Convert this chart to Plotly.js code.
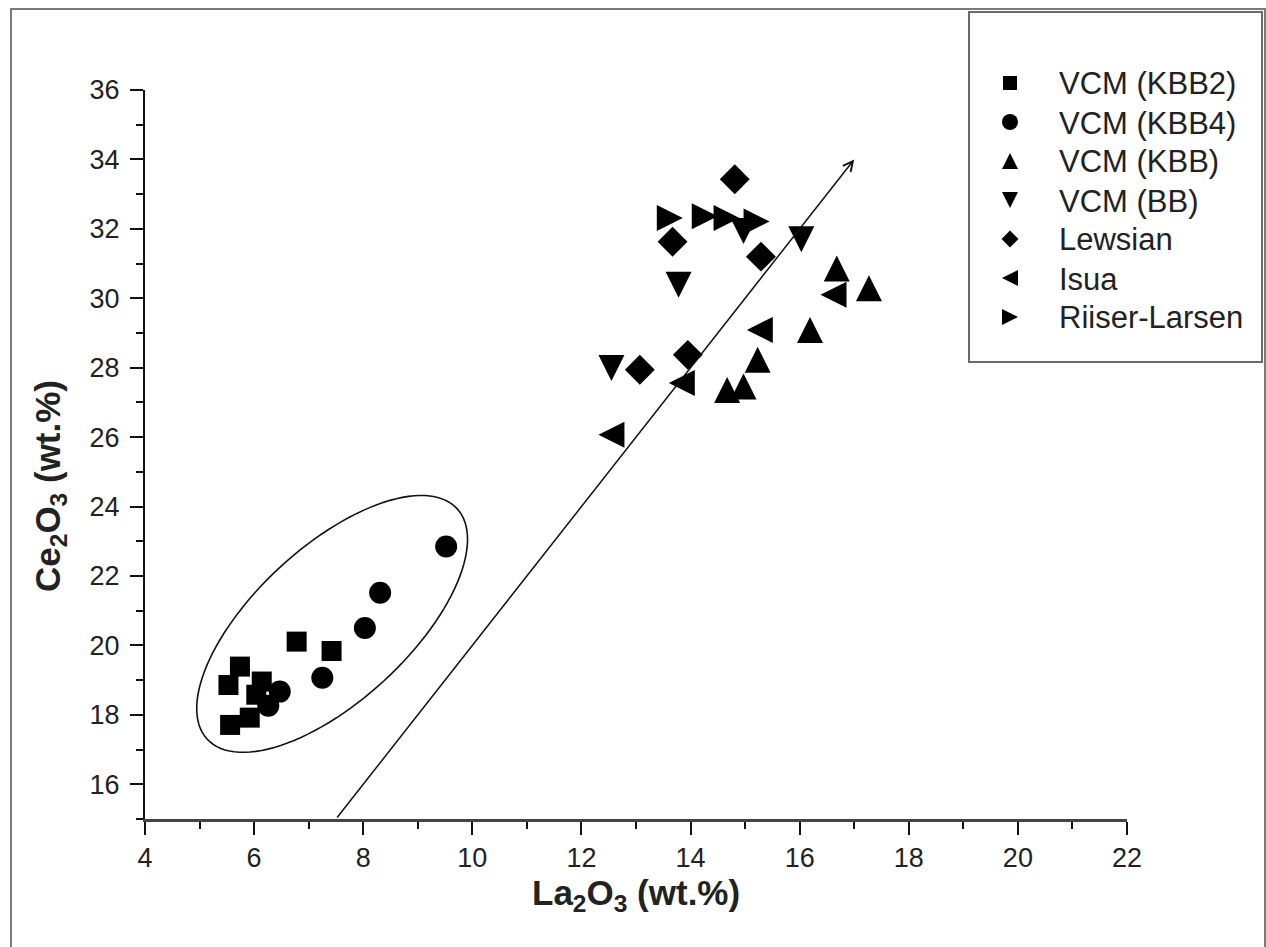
<!DOCTYPE html>
<html>
<head>
<meta charset="utf-8">
<script src="https://cdn.plot.ly/plotly-3.0.1.min.js"></script>
<style>
  html, body { margin: 0; padding: 0; background: #fff; }
  #wrap { position: relative; width: 1266px; height: 947px; overflow: hidden; }
  #chart { position: absolute; left: 0; top: 0; width: 1266px; height: 947px; }
  #frame { position: absolute; left: 10px; top: 8px; width: 1252px; height: 1000px;
           border: 2px solid #7a7a7a; pointer-events: none; }
</style>
</head>
<body>
<div id="wrap">
  <div id="chart"></div>
  <div id="frame"></div>
</div>
<script>
// ---------------- data ----------------
const seriesNames = ['VCM (KBB2)', 'VCM (KBB4)', 'VCM (KBB)', 'VCM (BB)', 'Lewsian', 'Isua', 'Riiser-Larsen'];

const kbb2X = [6.78, 7.42, 5.74, 5.53, 6.14, 6.04, 5.92, 5.56];
const kbb2Y = [20.11, 19.84, 19.39, 18.86, 18.96, 18.58, 17.92, 17.71];

const kbb4X = [9.52, 8.31, 8.03, 7.25, 6.47, 6.26];
const kbb4Y = [22.85, 21.52, 20.50, 19.07, 18.67, 18.26];

const kbbX = [16.68, 17.27, 16.19, 15.23, 14.67, 14.97];
const kbbY = [30.86, 30.29, 29.09, 28.23, 27.36, 27.46];

const bbX = [14.97, 16.03, 13.78, 12.55];
const bbY = [31.94, 31.70, 30.39, 27.99];

const lewX = [14.81, 13.67, 15.29, 13.95, 13.07];
const lewY = [33.43, 31.63, 31.20, 28.37, 27.94];

const isuaX = [16.62, 15.27, 13.84, 12.55];
const isuaY = [30.10, 29.09, 27.56, 26.07];

const rlX = [13.62, 14.26, 14.66, 15.21];
const rlY = [32.31, 32.36, 32.31, 32.21];

const xTicks = [4, 6, 8, 10, 12, 14, 16, 18, 20, 22];
const yTicks = [16, 18, 20, 22, 24, 26, 28, 30, 32, 34, 36];

// trend arrow (data units) and encircling ellipse
const arrowFrom = [7.5, 15.0];
const arrowTo = [17.0, 34.0];
const ellCenter = [7.43, 20.62];

// ---------------- layout geometry ----------------
const W = 1266, H = 947;
const PLOT = { left: 145, right: 1127, top: 90, bottom: 819 };   // main axes box, page px
const M = { l: PLOT.left, r: 0, t: 0, b: H - PLOT.bottom };
const paperW = W - M.l - M.r, paperH = H - M.t - M.b;
const xRange = [4, 22], yRange = [15, 36];
const plotW = PLOT.right - PLOT.left, plotH = PLOT.bottom - PLOT.top;
const kx = plotW / (xRange[1] - xRange[0]);
const ky = plotH / (yRange[1] - yRange[0]);
const px2paperX = p => (p - M.l) / paperW;
const px2paperY = p => (H - M.b - p) / paperH;

const FONT = 'Liberation Sans, Arial, Helvetica, sans-serif';

// legend placement (page pixels)
const LEG = { box: [969, 12, 1262, 362], symX: 1010, textX: 1057, row0: 83, step: 39 };

// ellipse path (semi-axes given in screen px, rotation in degrees)
function ellipsePath(c, a, b, deg) {
  const th = deg * Math.PI / 180;
  let d = '';
  const N = 120;
  for (let i = 0; i <= N; i++) {
    const t = 2 * Math.PI * i / N;
    const X = a * Math.cos(t) * Math.cos(th) - b * Math.sin(t) * Math.sin(th);
    const Y = a * Math.cos(t) * Math.sin(th) + b * Math.sin(t) * Math.cos(th);
    const x = c[0] + X / kx, y = c[1] + Y / ky;
    d += (i === 0 ? 'M' : 'L') + x.toFixed(4) + ',' + y.toFixed(4);
  }
  return d + 'Z';
}

// marker definitions; triangles use arrow symbols rotated and re-centred
const styles = [
  { symbol: 'square', size: 20, angle: 0, tri: false },
  { symbol: 'circle', size: 22, angle: 0, tri: false },
  { symbol: 'arrow-down', size: 26, angle: 180, tri: true },
  { symbol: 'arrow-down', size: 26, angle: 0, tri: true },
  { symbol: 'diamond', size: 23, angle: 0, tri: false },
  { symbol: 'arrow-down', size: 26, angle: 90, tri: true },
  { symbol: 'arrow-down', size: 26, angle: -90, tri: true }
];
const legSizes = [14, 16, 16, 16, 13, 16, 16];
const xs = [kbb2X, kbb4X, kbbX, bbX, lewX, isuaX, rlX];
const ys = [kbb2Y, kbb4Y, kbbY, bbY, lewY, isuaY, rlY];

function mk(s, size) {
  return { symbol: s.symbol, size: size, angle: s.angle, standoff: s.tri ? size / 2 : 0,
           color: '#000', line: { width: 0 } };
}

const traces = [];
for (let i = 0; i < seriesNames.length; i++) {
  traces.push({
    type: 'scatter', mode: 'markers', x: xs[i], y: ys[i], name: seriesNames[i],
    showlegend: false, cliponaxis: false, marker: mk(styles[i], styles[i].size)
  });
}
// legend keys on a hidden pixel-space axis pair spanning the whole paper
const legendAnn = [];
for (let i = 0; i < seriesNames.length; i++) {
  const ry = LEG.row0 + i * LEG.step;
  traces.push({
    type: 'scatter', mode: 'markers', x: [LEG.symX], y: [ry], xaxis: 'x2', yaxis: 'y2',
    showlegend: false, cliponaxis: false, hoverinfo: 'skip', marker: mk(styles[i], legSizes[i])
  });
  legendAnn.push({
    xref: 'paper', yref: 'paper', x: px2paperX(LEG.textX), y: px2paperY(ry + 1),
    xanchor: 'left', yanchor: 'middle', showarrow: false, text: seriesNames[i],
    font: { family: FONT, size: 31, color: '#222' }
  });
}

const axisCommon = {
  showgrid: false, zeroline: false, showline: true, mirror: false,
  ticks: 'outside', ticklen: 13, tickwidth: 2, tickcolor: '#111',
  tickfont: { family: FONT, size: 27, color: '#222' },
  minor: { dtick: 1, ticks: 'outside', ticklen: 7, tickwidth: 2, tickcolor: '#111', showgrid: false }
};

const layout = {
  width: W, height: H,
  margin: { l: M.l, r: M.r, t: M.t, b: M.b, pad: 0, autoexpand: false },
  paper_bgcolor: '#fff', plot_bgcolor: 'rgba(0,0,0,0)',
  font: { family: FONT, color: '#222' },
  showlegend: false,
  xaxis: Object.assign({}, axisCommon, {
    domain: [0, plotW / paperW], anchor: 'y',
    range: xRange, tickmode: 'array', tickvals: xTicks, ticktext: xTicks.map(String),
    linewidth: 3, linecolor: '#444',
    minor: Object.assign({}, axisCommon.minor, { tick0: 4 })
  }),
  yaxis: Object.assign({}, axisCommon, {
    domain: [0, plotH / paperH], anchor: 'x',
    range: yRange, tickmode: 'array', tickvals: yTicks, ticktext: yTicks.map(String),
    linewidth: 2, linecolor: '#111', ticklabelstandoff: 5,
    minor: Object.assign({}, axisCommon.minor, { tick0: 15 })
  }),
  xaxis2: { domain: [0, 1], anchor: 'y2', range: [M.l, W - M.r], visible: false, fixedrange: true },
  yaxis2: { domain: [0, 1], anchor: 'x2', range: [H - M.b, M.t], visible: false, fixedrange: true },
  shapes: [
    { type: 'path', xref: 'x', yref: 'y', path: ellipsePath(ellCenter, 170, 77, 42.7),
      line: { color: '#111', width: 1.6 }, fillcolor: 'rgba(0,0,0,0)' },
    { type: 'rect', xref: 'paper', yref: 'paper',
      x0: px2paperX(LEG.box[0]), x1: px2paperX(LEG.box[2]),
      y0: px2paperY(LEG.box[3]), y1: px2paperY(LEG.box[1]),
      line: { color: '#6a6a6a', width: 2 }, fillcolor: 'rgba(0,0,0,0)' }
  ],
  annotations: [
    { x: arrowTo[0], y: arrowTo[1], ax: arrowFrom[0], ay: arrowFrom[1],
      xref: 'x', yref: 'y', axref: 'x', ayref: 'y', text: '', showarrow: true,
      arrowhead: 5, arrowsize: 1.3, arrowwidth: 1.5, arrowcolor: '#111' },
    { xref: 'paper', yref: 'paper', x: px2paperX((PLOT.left + PLOT.right) / 2), y: px2paperY(895),
      xanchor: 'center', yanchor: 'middle',
      showarrow: false, text: 'La<sub>2</sub>O<sub>3</sub> (wt.%)',
      font: { family: FONT, size: 35, color: '#222', weight: 'bold' } },
    { xref: 'paper', yref: 'paper', x: px2paperX(50), y: px2paperY(486), xanchor: 'center', yanchor: 'middle',
      showarrow: false, textangle: -90, text: 'Ce<sub>2</sub>O<sub>3</sub> (wt.%)',
      font: { family: FONT, size: 35, color: '#222', weight: 'bold' } }
  ].concat(legendAnn)
};

Plotly.newPlot('chart', traces, layout, { staticPlot: true, displayModeBar: false });
</script>
</body>
</html>
